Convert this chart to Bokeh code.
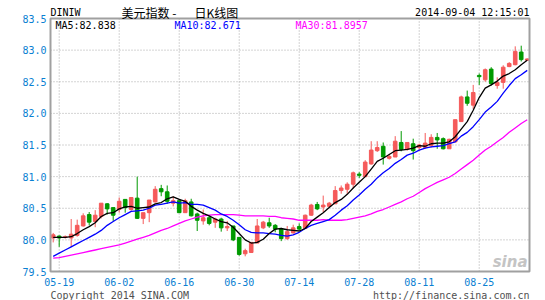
from bokeh.plotting import figure
from bokeh.models import ColumnDataSource
from bokeh.core.properties import value
from bokeh.embed import file_html
from bokeh.resources import INLINE

# ---------------- data ----------------
# index 0 = 2014-05-16, index 1 = 05-19 ... index 79 = 09-04
tick_index = [1, 11, 21, 31, 41, 51, 61, 71]
tick_labels = ["05-19", "06-02", "06-16", "06-30", "07-14", "07-28", "08-11", "08-25"]
y_ticks = [79.5, 80.0, 80.5, 81.0, 81.5, 82.0, 82.5, 83.0, 83.5]

open_ = [80.03, 80.06, 80.04, 80.03, 80.07, 80.22, 80.40, 80.29, 80.37, 80.57,
         80.51, 80.48, 80.64, 80.48, 80.66, 80.34, 80.43, 80.60, 80.81, 80.76,
         80.58, 80.62, 80.43, 80.60, 80.41, 80.30, 80.35, 80.28, 80.33, 80.19,
         80.22, 80.04, 79.78, 79.80, 79.95, 80.19, 80.27, 80.23, 80.17, 80.02,
         80.11, 80.21, 80.18, 80.39, 80.56, 80.52, 80.53, 80.57, 80.78, 80.80,
         80.88, 81.04, 81.00, 81.20, 81.41, 81.48, 81.29, 81.31, 81.54, 81.43,
         81.52, 81.46, 81.46, 81.49, 81.62, 81.60, 81.44, 81.55, 81.87, 82.26,
         82.13, 82.60, 82.53, 82.70, 82.44, 82.49, 82.74, 82.77, 82.97, 82.84]
close = [80.08, 80.03, 80.05, 80.09, 80.23, 80.38, 80.28, 80.39, 80.58, 80.49,
         80.39, 80.61, 80.51, 80.67, 80.34, 80.43, 80.63, 80.80, 80.76, 80.61,
         80.62, 80.43, 80.62, 80.38, 80.31, 80.35, 80.26, 80.33, 80.19, 80.21,
         80.00, 79.77, 79.83, 79.96, 80.22, 80.28, 80.22, 80.17, 80.02, 80.13,
         80.19, 80.17, 80.39, 80.55, 80.49, 80.55, 80.58, 80.78, 80.82, 80.88,
         81.06, 81.02, 81.23, 81.42, 81.46, 81.31, 81.32, 81.56, 81.43, 81.54,
         81.41, 81.50, 81.53, 81.62, 81.58, 81.44, 81.59, 81.90, 82.26, 82.16,
         82.33, 82.58, 82.69, 82.47, 82.49, 82.73, 82.79, 82.98, 82.85, 82.86]
high = [80.11, 80.07, 80.07, 80.33, 80.32, 80.42, 80.44, 80.47, 80.58, 80.58,
        80.51, 80.67, 80.64, 80.67, 81.00, 80.43, 80.63, 80.85, 80.87, 80.86,
        80.69, 80.62, 80.65, 80.65, 80.43, 80.48, 80.38, 80.35, 80.35, 80.30,
        80.22, 80.04, 79.86, 79.96, 80.33, 80.30, 80.35, 80.25, 80.19, 80.22,
        80.24, 80.26, 80.40, 80.57, 80.60, 80.70, 80.60, 80.85, 80.86, 80.91,
        81.08, 81.07, 81.26, 81.56, 81.56, 81.54, 81.36, 81.64, 81.72, 81.54,
        81.60, 81.52, 81.69, 81.67, 81.69, 81.62, 81.60, 81.90, 82.28, 82.36,
        82.45, 82.63, 82.71, 82.73, 82.57, 82.76, 82.81, 83.06, 83.07, 82.87]
low = [79.96, 79.89, 80.02, 79.89, 80.05, 80.21, 80.23, 80.20, 80.34, 80.40,
       80.30, 80.43, 80.43, 80.46, 80.33, 80.25, 80.28, 80.59, 80.69, 80.57,
       80.53, 80.43, 80.43, 80.37, 80.14, 80.24, 80.23, 80.19, 80.13, 80.14,
       79.98, 79.75, 79.74, 79.80, 79.95, 80.17, 80.19, 80.12, 79.98, 80.00,
       80.10, 80.15, 80.17, 80.38, 80.47, 80.44, 80.52, 80.57, 80.73, 80.73,
       80.81, 80.98, 81.00, 81.19, 81.39, 81.19, 81.27, 81.31, 81.40, 81.41,
       81.27, 81.41, 81.44, 81.46, 81.44, 81.43, 81.44, 81.54, 81.87, 82.12,
       82.07, 82.45, 82.50, 82.44, 82.39, 82.39, 82.73, 82.76, 82.82, 82.83]

ma5 = [80.04, 80.04, 80.04, 80.05, 80.10, 80.16, 80.21, 80.27, 80.37, 80.42,
       80.43, 80.49, 80.52, 80.53, 80.50, 80.51, 80.52, 80.57, 80.59, 80.65,
       80.68, 80.64, 80.61, 80.53, 80.47, 80.42, 80.38, 80.33, 80.29, 80.27,
       80.20, 80.10, 80.00, 79.95, 79.96, 80.01, 80.10, 80.17, 80.18, 80.16,
       80.15, 80.14, 80.18, 80.29, 80.36, 80.43, 80.51, 80.59, 80.64, 80.72,
       80.82, 80.91, 81.00, 81.12, 81.24, 81.29, 81.35, 81.41, 81.42, 81.43,
       81.45, 81.49, 81.48, 81.52, 81.53, 81.53, 81.55, 81.63, 81.75, 81.87,
       82.05, 82.25, 82.40, 82.45, 82.51, 82.59, 82.63, 82.69, 82.77, 82.84]
ma10 = [79.74, 79.79, 79.84, 79.89, 79.94, 79.99, 80.04, 80.09, 80.15, 80.23,
        80.29, 80.35, 80.40, 80.45, 80.46, 80.47, 80.50, 80.55, 80.56, 80.58,
        80.60, 80.58, 80.59, 80.56, 80.56, 80.55, 80.51, 80.47, 80.41, 80.37,
        80.31, 80.24, 80.16, 80.12, 80.11, 80.11, 80.10, 80.09, 80.07, 80.06,
        80.08, 80.12, 80.18, 80.23, 80.26, 80.29, 80.32, 80.39, 80.47, 80.54,
        80.63, 80.71, 80.80, 80.88, 80.98, 81.06, 81.13, 81.21, 81.27, 81.34,
        81.37, 81.42, 81.45, 81.47, 81.48, 81.49, 81.52, 81.55, 81.64, 81.70,
        81.79, 81.90, 82.02, 82.10, 82.19, 82.32, 82.44, 82.55, 82.61, 82.68]
ma30 = [79.71, 79.72, 79.74, 79.76, 79.78, 79.80, 79.82, 79.84, 79.86, 79.88,
        79.90, 79.92, 79.95, 79.98, 80.01, 80.04, 80.07, 80.11, 80.15, 80.18,
        80.22, 80.26, 80.30, 80.33, 80.36, 80.38, 80.39, 80.40, 80.40, 80.40,
        80.40, 80.39, 80.38, 80.38, 80.38, 80.38, 80.37, 80.37, 80.35, 80.34,
        80.33, 80.31, 80.31, 80.31, 80.31, 80.32, 80.31, 80.31, 80.31, 80.32,
        80.34, 80.36, 80.38, 80.41, 80.45, 80.48, 80.52, 80.56, 80.60, 80.65,
        80.69, 80.75, 80.81, 80.86, 80.91, 80.95, 80.99, 81.05, 81.12, 81.19,
        81.26, 81.34, 81.42, 81.48, 81.55, 81.62, 81.70, 81.77, 81.84, 81.90]

# ---------------- styling ----------------
UP = "#f55a5a"
DOWN = "#009a00"
AXIS_BLUE = "#0a80d2"
GRID = "#a8a8a8"
MONO = "DejaVu Sans Mono"

# plot area in data units and its place on the 545x300 canvas
X0, X1 = -0.45, 79.38          # left / right border of the chart area
Y0, Y1 = 79.5, 83.5            # bottom / top border
PX_L, PX_R, PX_T, PX_B = 50, 529, 18, 271
KX = (X1 - X0) / (PX_R - PX_L)
KY = (Y1 - Y0) / (PX_B - PX_T)


def xd(px):
    return X0 + (px - PX_L) * KX


def yd(py):
    return Y1 - (py - PX_T) * KY


idx = list(range(len(close)))
colors = [UP if c >= o else DOWN for o, c in zip(open_, close)]
src = ColumnDataSource(dict(
    x=idx, open=open_, close=close, high=high, low=low,
    top=[max(o, c) for o, c in zip(open_, close)],
    bottom=[min(o, c) for o, c in zip(open_, close)],
    color=colors,
))

p = figure(width=545, height=300, title=None,
           x_range=(xd(0), xd(545)), y_range=(yd(300), yd(0)),
           output_backend="svg", toolbar_location=None,
           x_axis_location=None, y_axis_location=None, min_border=0)
p.background_fill_color = "white"
p.border_fill_color = "white"
p.outline_line_color = None
p.grid.visible = False

# dotted grid
inner_y = [v for v in y_ticks if Y0 < v < Y1]
p.segment(x0=[X0] * len(inner_y), x1=[X1] * len(inner_y), y0=inner_y, y1=inner_y,
          line_color=GRID, line_dash="1 2", line_width=1)
p.segment(x0=tick_index, x1=tick_index, y0=[Y0] * len(tick_index), y1=[Y1] * len(tick_index),
          line_color=GRID, line_dash="1 2", line_width=1)

# candles
p.segment(x0="x", y0="high", x1="x", y1="low", color="color", line_width=1, source=src)
p.vbar(x="x", width=0.6, top="top", bottom="bottom", fill_color="color",
       line_color="color", line_width=1, source=src)

# moving averages
p.line(idx, ma30, color="#ff00ff", line_width=1.3)
p.line(idx, ma10, color="#0000ff", line_width=1.3)
p.line(idx, ma5, color="#000000", line_width=1.3)

# chart border
p.quad(left=[X0], right=[X1], bottom=[Y0], top=[Y1], fill_color=None,
       line_color="#a0a0a0", line_width=2)

# tick labels
p.text(x=[xd(46)] * len(y_ticks), y=y_ticks, text=[f"{v:.1f}" for v in y_ticks],
       text_font=value(MONO), text_font_size="10px", text_color=AXIS_BLUE,
       text_align="right", text_baseline="middle")
p.text(x=tick_index, y=[yd(281.5)] * len(tick_index), text=tick_labels,
       text_font=value(MONO), text_font_size="10px", text_color=AXIS_BLUE,
       text_align="center", text_baseline="middle")


def lab(text, px, py, color="black", font=MONO, size="10px", align="left", style="normal"):
    p.text(x=[xd(px)], y=[yd(py)], text=[text], text_color=color, text_font=value(font),
           text_font_size=size, text_align=align, text_baseline="middle",
           text_font_style=style)


lab("DINIW", 50, 11.5)
lab("美元指数 -", 121, 11.5, font="Noto Sans CJK SC", size="12px")
lab("日K线图", 194, 11.5, font="Noto Sans CJK SC", size="12px")
lab("2014-09-04 12:15:01", 529, 12, align="right")
lab("MA5:82.838", 55, 24.5)
lab("MA10:82.671", 174, 24.5, color="#0000ff")
lab("MA30:81.8957", 295, 24.5, color="#ff00ff")
lab("Copyright 2014 SINA.COM", 50, 295, color="#505050")
lab("http://finance.sina.com.cn", 529, 295, color="#505050", align="right")
lab("sina", 527, 261, color="#c4c4c4", font="DejaVu Sans", size="15px", align="right",
    style="bold italic")

open("out.html", "w").write(file_html(p, INLINE))
